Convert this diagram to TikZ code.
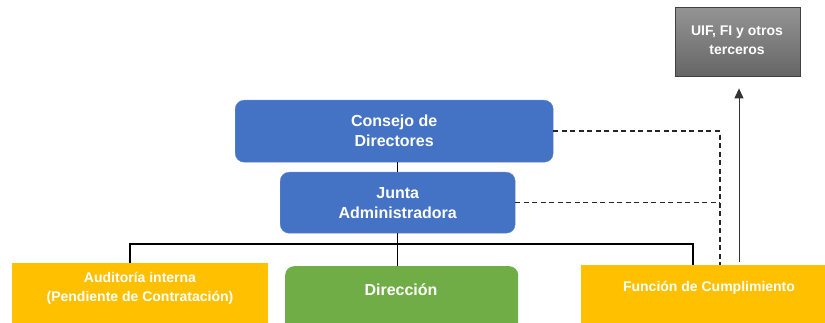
\documentclass[tikz,border=0pt]{standalone}
\usepackage{fontspec}
\setmainfont{Liberation Sans}
\usetikzlibrary{arrows.meta, positioning}

\definecolor{boardblue}{RGB}{68,114,196}
\definecolor{mgmtgreen}{RGB}{112,173,71}
\definecolor{unitgold}{RGB}{255,192,0}

\begin{document}
\begin{tikzpicture}[x=1pt, y=-1pt,
      board/.style = {fill=boardblue, draw=boardblue!85!white, rounded corners=9pt,
                      anchor=north west, inner sep=0pt},
      unit/.style = {fill=unitgold, anchor=north west, inner sep=0pt},
      mgmt/.style = {fill=mgmtgreen, rounded corners=9pt, anchor=north west,
                     inner sep=0pt},
      outside/.style = {top color=black!42, bottom color=black!60,
                        draw=black!75, anchor=north west, inner sep=0pt},
      label big/.style = {text=white, align=center, inner sep=0pt,
                          font=\bfseries\fontsize{16}{20}\selectfont},
      label small/.style = {text=white, align=center, inner sep=0pt,
                            font=\bfseries\fontsize{14}{19}\selectfont},
      org/.style = {line width=1.4pt, black},
      report/.style = {line width=1.4pt, black!85, dash pattern=on 5pt off 3.5pt},
      notify/.style = {line width=0.9pt, black!80,
                       arrows={-Triangle[length=10pt, width=9pt]}},
    ]
    \clip (0,0) rectangle (825,323);

    %% Governing bodies
    \node [board, minimum width=318pt, minimum height=62pt] (consejo) at (235,100) {};
    \node [label big] (consejoText) at (consejo.center) {Consejo de\\Directores};
    \node [board, minimum width=235pt, minimum height=61pt] (junta) at (280,172) {};
    \node [label big] (juntaText) at (junta.center) {Junta\\Administradora};

    %% Units below the board (they run off the bottom edge)
    \node [unit, minimum width=256pt, minimum height=70pt] (auditoria) at (12,263) {};
    \node [label small] (auditoriaText) at (140,288)
      {Auditoría interna\\(Pendiente de Contratación)};
    \node [mgmt, minimum width=233pt, minimum height=75pt] (direccion) at (285,266) {};
    \node [label big] (direccionText) at (401,290) {Dirección};
    \node [unit, minimum width=250pt, minimum height=70pt] (funcion) at (581,265) {};
    \node [label small] (funcionText) at (709,288) {Función de Cumplimiento};

    %% External parties
    \node [outside, minimum width=125pt, minimum height=69pt] (uif) at (675,7) {};
    \node [label small] (uifText) at (737,40) {UIF, FI y otros\\terceros};

    %% Reporting lines
    \coordinate (busL) at (130,244);
    \coordinate (busR) at (693,244);
    \coordinate (dash) at (720,132);
    \coordinate (up) at (739,262);

    \draw [org] (junta.north |- consejo.south) -- (junta.north);
    \draw [org] (junta.south) -- (junta.south |- direccion.north);
    \draw [org] (busL |- auditoria.north) -- (busL) -- (busR)
      -- (busR |- funcion.north);

    \draw [report] (consejo.east) -- (consejo.east -| dash) -- (dash |- funcion.north);
    \draw [report] (junta.east) -- (junta.east -| dash);

    \draw [notify, shorten >= 12pt] (up) -- (up |- uif.south);
  \end{tikzpicture}
\end{document}
